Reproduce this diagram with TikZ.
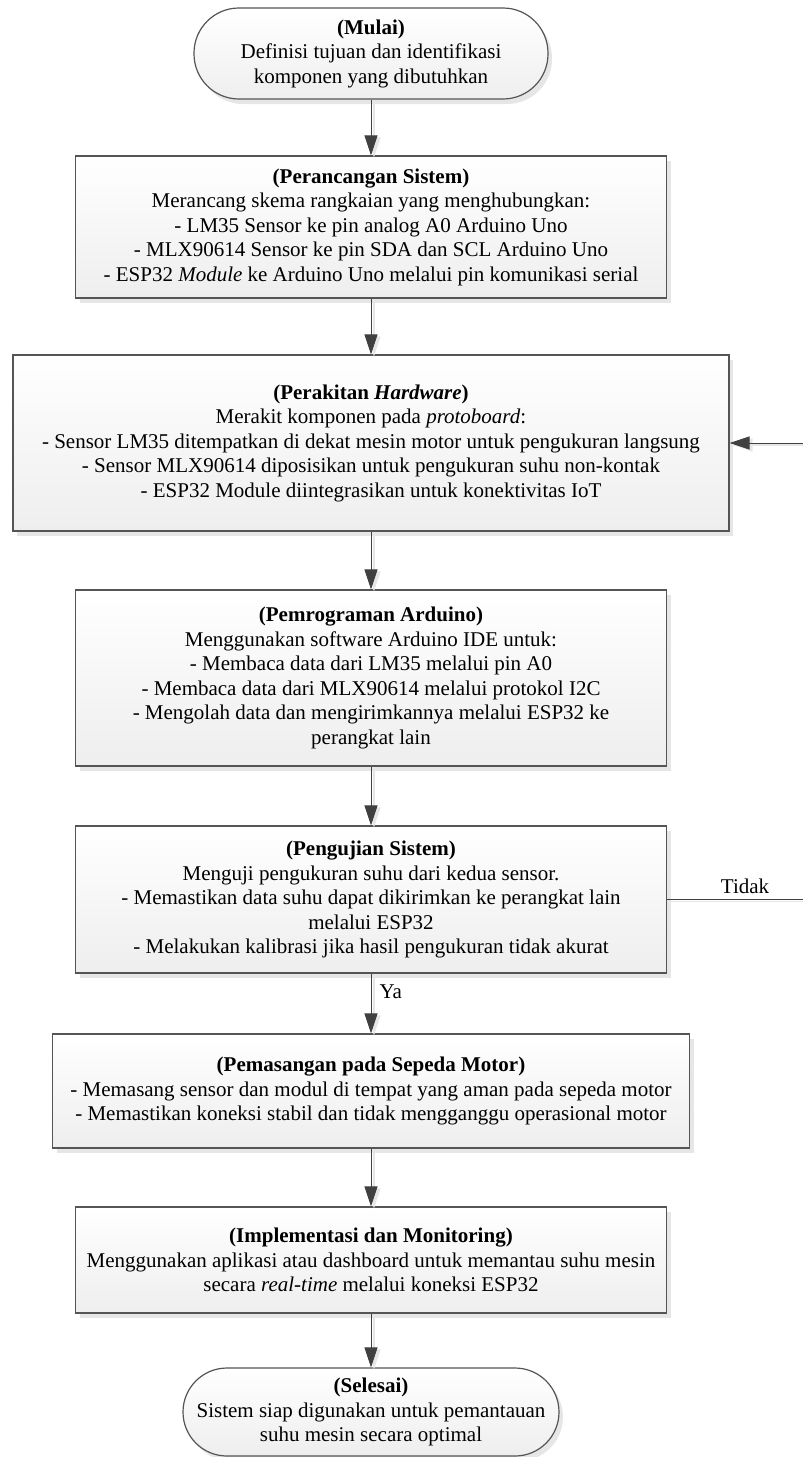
\documentclass[tikz,border=0pt]{standalone}
\usepackage{fontspec}
\setmainfont{Liberation Serif}
\usetikzlibrary{arrows.meta,shadows}
\definecolor{edge}{HTML}{555555}
\definecolor{conncol}{HTML}{404040}
\definecolor{shade}{HTML}{E6E6E6}
\definecolor{boxbot}{HTML}{EEEEEE}
\tikzset{
  base/.style={draw=edge, line width=1.2pt, top color=white, bottom color=boxbot,
    drop shadow={shadow xshift=4pt, shadow yshift=-5pt, fill=shade, opacity=1},
    align=center, font=\fontsize{21}{24.5}\selectfont, inner sep=0pt},
  proc/.style={base, rectangle},
  term/.style={base, rectangle},
  conn/.style={draw=conncol, line width=1pt, -{Triangle[length=20pt,width=13pt]},
    preaction={draw=shade, line width=1.6pt, transform canvas={xshift=3pt,yshift=-2pt}}},
  lbl/.style={font=\fontsize{21}{24.5}\selectfont, inner sep=2pt}
}
\begin{document}
\begin{tikzpicture}[x=1pt,y=-1pt]
\useasboundingbox (0,0) rectangle (803,1457);

\node[term, rounded corners=45pt, minimum width=354pt, minimum height=91pt] (mulai) at (371,53.5)
  {\textbf{(Mulai)}\\Definisi tujuan dan identifikasi\\komponen yang dibutuhkan};

\node[proc, minimum width=591pt, minimum height=142pt] (rancang) at (371,227)
  {\textbf{(Perancangan Sistem)}\\Merancang skema rangkaian yang menghubungkan:\\- LM35 Sensor ke pin analog A0 Arduino Uno\\- MLX90614 Sensor ke pin SDA dan SCL Arduino Uno\\- ESP32 \textit{Module} ke Arduino Uno melalui pin komunikasi serial};

\node[proc, minimum width=716pt, minimum height=176pt] (rakit) at (371,443)
  {\textbf{(Perakitan \textit{Hardware})}\\Merakit komponen pada \textit{protoboard}:\\- Sensor LM35 ditempatkan di dekat mesin motor untuk pengukuran langsung\\- Sensor MLX90614 diposisikan untuk pengukuran suhu non-kontak\\- ESP32 Module diintegrasikan untuk konektivitas IoT};

\node[proc, minimum width=591pt, minimum height=176pt] (program) at (371,678)
  {\textbf{(Pemrograman Arduino)}\\Menggunakan software Arduino IDE untuk:\\- Membaca data dari LM35 melalui pin A0\\- Membaca data dari MLX90614 melalui protokol I2C\\- Mengolah data dan mengirimkannya melalui ESP32 ke\\perangkat lain};

\node[proc, minimum width=591pt, minimum height=147pt] (uji) at (371,899.5)
  {\textbf{(Pengujian Sistem)}\\Menguji pengukuran suhu dari kedua sensor.\\- Memastikan data suhu dapat dikirimkan ke perangkat lain\\melalui ESP32\\- Melakukan kalibrasi jika hasil pengukuran tidak akurat};

\node[proc, minimum width=637pt, minimum height=114pt] (pasang) at (371,1091)
  {\textbf{(Pemasangan pada Sepeda Motor)}\\- Memasang sensor dan modul di tempat yang aman pada sepeda motor\\- Memastikan koneksi stabil dan tidak mengganggu operasional motor};

\node[proc, minimum width=591pt, minimum height=106pt] (impl) at (371,1260)
  {\textbf{(Implementasi dan Monitoring)}\\Menggunakan aplikasi atau dashboard untuk memantau suhu mesin\\secara \textit{real-time} melalui koneksi ESP32};

\node[term, rounded corners=44pt, minimum width=376pt, minimum height=88pt] (selesai) at (371,1412)
  {\textbf{(Selesai)}\\Sistem siap digunakan untuk pemantauan\\suhu mesin secara optimal};

\draw[conn] (mulai) -- (rancang);
\draw[conn] (rancang) -- (rakit);
\draw[conn] (rakit) -- (program);
\draw[conn] (program) -- (uji);
\draw[conn] (uji) -- node[lbl, anchor=west, pos=0.3, xshift=6pt] (ya) {Ya} (pasang);
\draw[conn] (pasang) -- (impl);
\draw[conn] (impl) -- (selesai);
\coordinate (far) at (820,670);
\draw[conn] (uji.east) -- (uji.east -| far) node[lbl, pos=0.51, anchor=south, yshift=3pt] (tidak) {Tidak}
  -- (rakit.east -| far) -- (rakit.east);
\end{tikzpicture}
\end{document}
